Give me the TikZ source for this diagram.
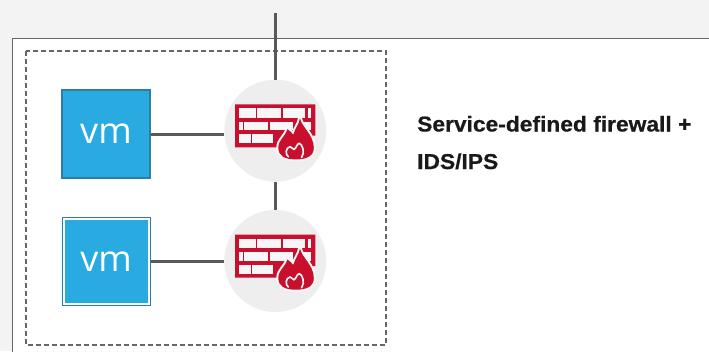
\documentclass[tikz,border=0pt]{standalone}
\usepackage{fontspec}
\setmainfont[FakeStretch=1.06,FakeBold=0.6]{Liberation Sans Bold}
\newfontfamily\vmfont{Open Sans}
\usepackage{xcolor}
\usetikzlibrary{positioning,calc}
\definecolor{panelgray}{HTML}{F3F3F3}
\definecolor{linegray}{HTML}{595959}
\definecolor{vmblue}{HTML}{29ABE2}
\definecolor{vmedge}{HTML}{2A7FA6}
\definecolor{firered}{HTML}{C8102E}
\definecolor{circlegray}{HTML}{EEEEEE}
\definecolor{brickgray}{HTML}{F6F6F6}
\newcommand{\flamepath}{(20.7,28.7) .. controls (9,28.7) and (3,25) .. (3,17)
      .. controls (3,9) and (10,6) .. (12,-1.5) .. controls (14,0) and (17,2) .. (18,4)
      .. controls (20,-3) and (24,-7) .. (24.7,-12.5) .. controls (26,-4) and (38.5,4) .. (38.5,17)
      .. controls (38.5,25) and (32,28.7) .. (20.7,28.7) -- cycle}
\newcommand{\firewallicon}[1]{
  \begin{scope}[shift={(#1)}]
    \fill[firered] (-40.3,-26.3) -- (40,-26.3) -- (40,5) -- (30,5) -- (4,16.7) -- (-40.3,16.7) -- cycle;
    \foreach \xa/\xb/\ya/\yb in {-36/-19.7/-22.3/-13, -18/5.7/-22.3/-13, 7.7/30/-22.3/-13, 32.3/35.7/-22.3/-13,
        -36/-32.7/-9/-0.3, -31/-7/-9/-0.3, -5/18/-9/-0.3, 28/35.7/-9/-0.3,
        -36/-24.7/3.7/12.7, -23/-2/3.7/12.7}
      \fill[brickgray] (\xa,\ya) rectangle (\xb,\yb);
    % flame on top of the wall
    \draw[brickgray, line width=4pt] \flamepath;
    \fill[firered] \flamepath;
    \draw[brickgray, line width=1.6pt, line cap=round] (13,26) .. controls (10,24) and (10,17) .. (14.7,16)
      .. controls (16.5,16) and (17.5,19) .. (18.7,18.7) .. controls (21,18) and (21.5,12.7) .. (24,12.7)
      .. controls (27,13) and (30,22) .. (26.3,26.7);
  \end{scope}
}
\begin{document}
\begin{tikzpicture}[x=1pt, y=-1pt,
    vmbox/.style={draw=vmedge, line width=1.3pt, fill=vmblue, text=white, minimum size=88pt, inner sep=0pt, font=\vmfont\fontsize{36}{36}\selectfont},
    fwcircle/.style={circle, fill=circlegray, minimum size=102pt, inner sep=0pt},
    link/.style={draw=linegray, line width=3pt},
    title/.style={anchor=base west, inner sep=0pt, text=black!90, font=\fontsize{21.5}{21.5}\selectfont}]
\useasboundingbox (0,0) rectangle (709,351);
\fill[panelgray] (0,0) rectangle (709,351);
\draw[fill=white, draw=black!60, line width=1.1pt] (12.5,354) -- (12.5,38.5) -- (712,38.5) -- (712,354) -- cycle;
\draw[draw=black!60, line width=1.1pt, dash pattern=on 5pt off 3pt] (26,51) rectangle (386,345);

\node[fwcircle] (fwA) at (275.3,130.7) {};
\node[fwcircle] (fwB) at (275.3,261) {};
\node[vmbox, minimum size=88pt] (vmA) at (106,134) {\raisebox{-1pt}{vm}};
\node[draw=vmedge, line width=1.3pt, fill=white, minimum size=88pt, inner sep=0pt] (vmOuter) at (106.2,261.8) {};
\node[vmbox, draw=none, minimum size=83pt] (vmB) at (106.2,261.8) {\raisebox{-1pt}{vm}};
\coordinate (topEnd) at (275.3,13);

\draw[link] (topEnd) -- (fwA.north);
\draw[link] (fwA.south) -- (fwB.north);
\draw[link] (vmA.east) -- (vmA.east -| fwA.west);
\draw[link] (vmOuter.east) -- (vmOuter.east -| fwB.west);

\firewallicon{fwA.center}
\firewallicon{fwB.center}

\node[title] (titleA) at (417,131.5) {Service-defined firewall +};
\node[title] (titleB) at (417,169) {IDS/IPS};
\end{tikzpicture}
\end{document}
